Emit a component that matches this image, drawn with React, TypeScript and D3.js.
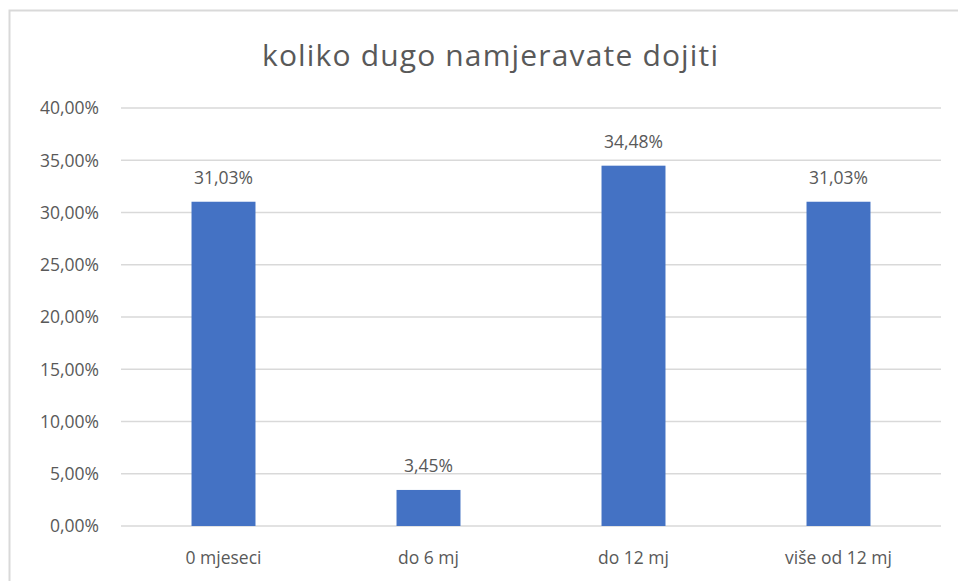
import { useEffect, useRef } from "react"
import * as d3 from "d3"

const categories = ["0 mjeseci", "do 6 mj", "do 12 mj", "više od 12 mj"]
const values = [31.03, 3.45, 34.48, 31.03]
const yTicks = [0, 5, 10, 15, 20, 25, 30, 35, 40]
const title = "koliko dugo namjeravate dojiti"

const fmt = (v: number) => v.toFixed(2).replace(".", ",") + "%"

export default function App() {
  const svgRef = useRef<SVGSVGElement>(null)

  useEffect(() => {
    if (!svgRef.current) return
    const svg = d3.select(svgRef.current)
    svg.selectAll("*").remove()

    const width = 958
    const height = 581
    const margin = { top: 108, right: 17, bottom: 55, left: 121 }
    const font = "'Open Sans', 'Liberation Sans', sans-serif"
    const textColor = "#595959"
    const labelSize = 17.5

    // chart border (cut off on the right and bottom in the original)
    svg.append("rect")
      .attr("x", 9.5)
      .attr("y", 10.5)
      .attr("width", width)
      .attr("height", height)
      .attr("fill", "#fff")
      .attr("stroke", "#d9d9d9")
      .attr("stroke-width", 2)

    const x = d3.scaleBand()
      .domain(categories)
      .range([margin.left, width - margin.right])
      .paddingInner(0.688)
      .paddingOuter(0.344)

    const y = d3.scaleLinear()
      .domain([0, 40])
      .range([height - margin.bottom, margin.top])

    // gridlines
    svg.append("g")
      .selectAll("line")
      .data(yTicks)
      .enter()
      .append("line")
      .attr("x1", margin.left)
      .attr("x2", width - margin.right)
      .attr("y1", (d: number) => y(d))
      .attr("y2", (d: number) => y(d))
      .attr("stroke", "#d9d9d9")
      .attr("stroke-width", 1.5)

    // y labels
    svg.append("g")
      .selectAll("text")
      .data(yTicks)
      .enter()
      .append("text")
      .attr("x", 99)
      .attr("y", (d: number) => y(d))
      .attr("dy", "0.36em")
      .attr("text-anchor", "end")
      .attr("font-family", font)
      .attr("font-size", labelSize)
      .attr("fill", textColor)
      .text((d: number) => fmt(d))

    // bars
    svg.append("g")
      .selectAll("rect")
      .data(values)
      .enter()
      .append("rect")
      .attr("x", (_: number, i: number) => x(categories[i])!)
      .attr("width", x.bandwidth())
      .attr("y", (d: number) => y(d))
      .attr("height", (d: number) => y(0) - y(d))
      .attr("fill", "#4472c4")

    // data labels
    svg.append("g")
      .selectAll("text")
      .data(values)
      .enter()
      .append("text")
      .attr("x", (_: number, i: number) => x(categories[i])! + x.bandwidth() / 2)
      .attr("y", (d: number) => y(d) - 18)
      .attr("text-anchor", "middle")
      .attr("font-family", font)
      .attr("font-size", labelSize)
      .attr("fill", textColor)
      .text((d: number) => fmt(d))

    // category labels
    svg.append("g")
      .selectAll("text")
      .data(categories)
      .enter()
      .append("text")
      .attr("x", (d: string) => x(d)! + x.bandwidth() / 2)
      .attr("y", height - 17)
      .attr("text-anchor", "middle")
      .attr("font-family", font)
      .attr("font-size", labelSize)
      .attr("fill", textColor)
      .text((d: string) => d)

    svg.append("text")
      .attr("x", 490)
      .attr("y", 66)
      .attr("text-anchor", "middle")
      .attr("font-family", font)
      .attr("font-size", 30)
      .attr("textLength", 456)
      .attr("lengthAdjust", "spacing")
      .attr("fill", textColor)
      .text(title)
  }, [])

  return (
    <div style={{ position: "fixed", left: 0, top: 0 }}>
      <svg ref={svgRef} width={958} height={581} style={{ display: "block", background: "#fff" }} />
    </div>
  )
}
